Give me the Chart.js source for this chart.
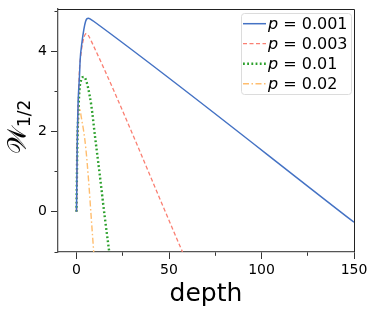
<!DOCTYPE html>
<html>
<head>
<meta charset="utf-8">
<script src="https://cdn.jsdelivr.net/npm/chart.js@4.4.0/dist/chart.umd.min.js"></script>
<style>
  html, body { margin: 0; padding: 0; background: #fff; }
  #wrap { width: 379px; height: 316px; }
</style>
</head>
<body>
<div id="wrap"><canvas id="depthChart" width="379" height="316"></canvas></div>
<script>
const pValues = ['0.001', '0.003', '0.01', '0.02'];

const blueX = [0, 0.2, 0.35, 0.5, 0.8, 1.1, 1.6, 2.0, 2.9, 4.0, 4.9, 5.7, 6.4, 7.5, 10, 150];
const blueY = [0, 0.8, 1.5, 2.0, 2.6, 2.97, 3.37, 3.8, 4.2, 4.55, 4.74, 4.81, 4.82, 4.8, 4.72, -0.26];

const redX = [0, 0.2, 0.4, 0.7, 1.1, 1.6, 2.2, 2.9, 3.8, 4.6, 5.4, 6.3, 8, 57.3];
const redY = [0, 0.8, 1.5, 2.2, 2.9, 3.54, 3.85, 4.1, 4.3, 4.41, 4.44, 4.4, 4.25, -1];

const greenX = [0, 0.2, 0.4, 0.7, 1.1, 1.6, 2.5, 3.3, 4.2, 5.2, 6.2, 8, 10, 12.5, 15.2, 17.7];
const greenY = [0, 0.8, 1.5, 2.1, 2.6, 3.04, 3.28, 3.35, 3.36, 3.27, 3.1, 2.65, 1.88, 0.95, -0.1, -1];

const orangeX = [0, 0.15, 0.3, 0.5, 0.8, 1.3, 1.9, 2.6, 3.9, 5.0, 6.5, 7.9, 9.3];
const orangeY = [0, 0.8, 1.5, 2.0, 2.4, 2.62, 2.55, 2.35, 2.0, 1.6, 0.8, -0.1, -1];

const xTicks = [0, 25, 50, 75, 100, 125, 150];
const yTicks = [-1, 0, 1, 2, 3, 4, 5];

function pts(xs, ys) {
  return xs.map((x, i) => ({ x: x, y: ys[i] }));
}

const series = [
  { x: blueX, y: blueY, color: '#4472C4', dash: [], width: 1.5 },
  { x: redX, y: redY, color: '#FA7F72', dash: [4, 2.5], width: 1.3 },
  { x: greenX, y: greenY, color: '#2CA02C', dash: [1.8, 2.4], width: 2.4 },
  { x: orangeX, y: orangeY, color: '#FFBD6E', dash: [6, 2.5, 1.5, 2.5], width: 1.4 }
];

// box around plot + y title + legend
const extras = {
  id: 'extras',
  afterDraw(chart) {
    const c = chart.ctx;
    const a = chart.chartArea;
    c.save();
    c.strokeStyle = '#222';
    c.lineWidth = 1;
    c.beginPath();
    c.moveTo(a.left, a.top + 0.5);
    c.lineTo(a.right + 0.5, a.top + 0.5);
    c.lineTo(a.right + 0.5, a.bottom);
    c.stroke();

    // y title
    c.translate(18, 140);
    c.rotate(-Math.PI / 2);
    c.fillStyle = '#000';
    c.textBaseline = 'alphabetic';
    c.font = '26px "DejaVu Sans"';
    c.fillText('\u{1D4B2}', -14, 8);
    const w = c.measureText('\u{1D4B2}').width;
    c.font = '17px "DejaVu Sans"';
    c.fillText('1/2', -14 + w, 12);
    c.restore();

    // legend
    c.save();
    const lx = 241, ly = 13, lw = 110, lh = 81;
    c.fillStyle = 'rgba(255,255,255,0.85)';
    c.strokeStyle = '#dcdcdc';
    c.lineWidth = 1;
    c.beginPath();
    c.roundRect(lx + 0.5, ly + 0.5, lw, lh, 3);
    c.fill();
    c.stroke();
    chart.data.datasets.forEach((ds, i) => {
      const yy = 23.7 + i * 20;
      c.strokeStyle = ds.borderColor;
      c.lineWidth = ds.borderWidth;
      c.setLineDash(ds.borderDash);
      c.beginPath();
      c.moveTo(243, yy);
      c.lineTo(266, yy);
      c.stroke();
      c.setLineDash([]);
      c.fillStyle = '#000';
      c.textBaseline = 'middle';
      c.font = 'oblique 16px "DejaVu Sans"';
      c.fillText('p', 268, yy + 1);
      const pw = c.measureText('p').width;
      c.font = '16px "DejaVu Sans"';
      c.fillText(' = ' + pValues[i], 268 + pw, yy + 1);
    });
    c.restore();
  }
};

new Chart(document.getElementById('depthChart').getContext('2d'), {
  type: 'line',
  data: {
    datasets: series.map((s, i) => ({
      label: 'p = ' + pValues[i],
      data: pts(s.x, s.y),
      borderColor: s.color,
      borderDash: s.dash,
      borderWidth: s.width,
      pointRadius: 0,
      fill: false,
      tension: 0.3,
      cubicInterpolationMode: 'monotone'
    }))
  },
  options: {
    responsive: false,
    animation: false,
    layout: { padding: { left: 0, right: 25, top: 9, bottom: 0 } },
    plugins: {
      legend: { display: false },
      tooltip: { enabled: false }
    },
    scales: {
      x: {
        type: 'linear',
        min: -10,
        max: 150,
        afterBuildTicks: (s) => { s.ticks = xTicks.map(v => ({ value: v })); },
        afterFit: (s) => { s.height = 64; s.paddingLeft = 0; s.paddingRight = 0; },
        grid: {
          drawOnChartArea: false,
          drawTicks: true,
          tickLength: 7,
          tickColor: '#333',
          tickBorderDash: (ctx) => (ctx.tick && ctx.tick.value % 50 !== 0 ? [3.5, 20] : [])
        },
        border: { display: true, color: '#555', width: 1.3 },
        ticks: {
          color: '#000',
          padding: 3,
          font: { family: 'DejaVu Sans', size: 14 },
          callback: (v) => (v % 50 === 0 ? String(v) : '')
        },
        title: {
          display: true,
          text: 'depth',
          color: '#000',
          font: { family: 'DejaVu Sans', size: 25 },
          padding: { top: 0, bottom: 7 }
        }
      },
      y: {
        min: -1,
        max: 5.05,
        afterBuildTicks: (s) => { s.ticks = yTicks.map(v => ({ value: v })); },
        afterFit: (s) => { s.width = 58; s.paddingTop = 0; s.paddingBottom = 0; },
        grid: {
          drawOnChartArea: false,
          drawTicks: true,
          tickLength: 7,
          tickColor: '#333',
          tickBorderDash: (ctx) => (ctx.tick && ctx.tick.value % 2 !== 0 ? [0, 3.5, 20] : [])
        },
        border: { display: true, color: '#555', width: 1.3 },
        ticks: {
          color: '#000',
          padding: 4,
          font: { family: 'DejaVu Sans', size: 14 },
          callback: (v) => (v % 2 === 0 ? String(v) : '')
        }
      }
    }
  },
  plugins: [extras]
});
</script>
</body>
</html>
